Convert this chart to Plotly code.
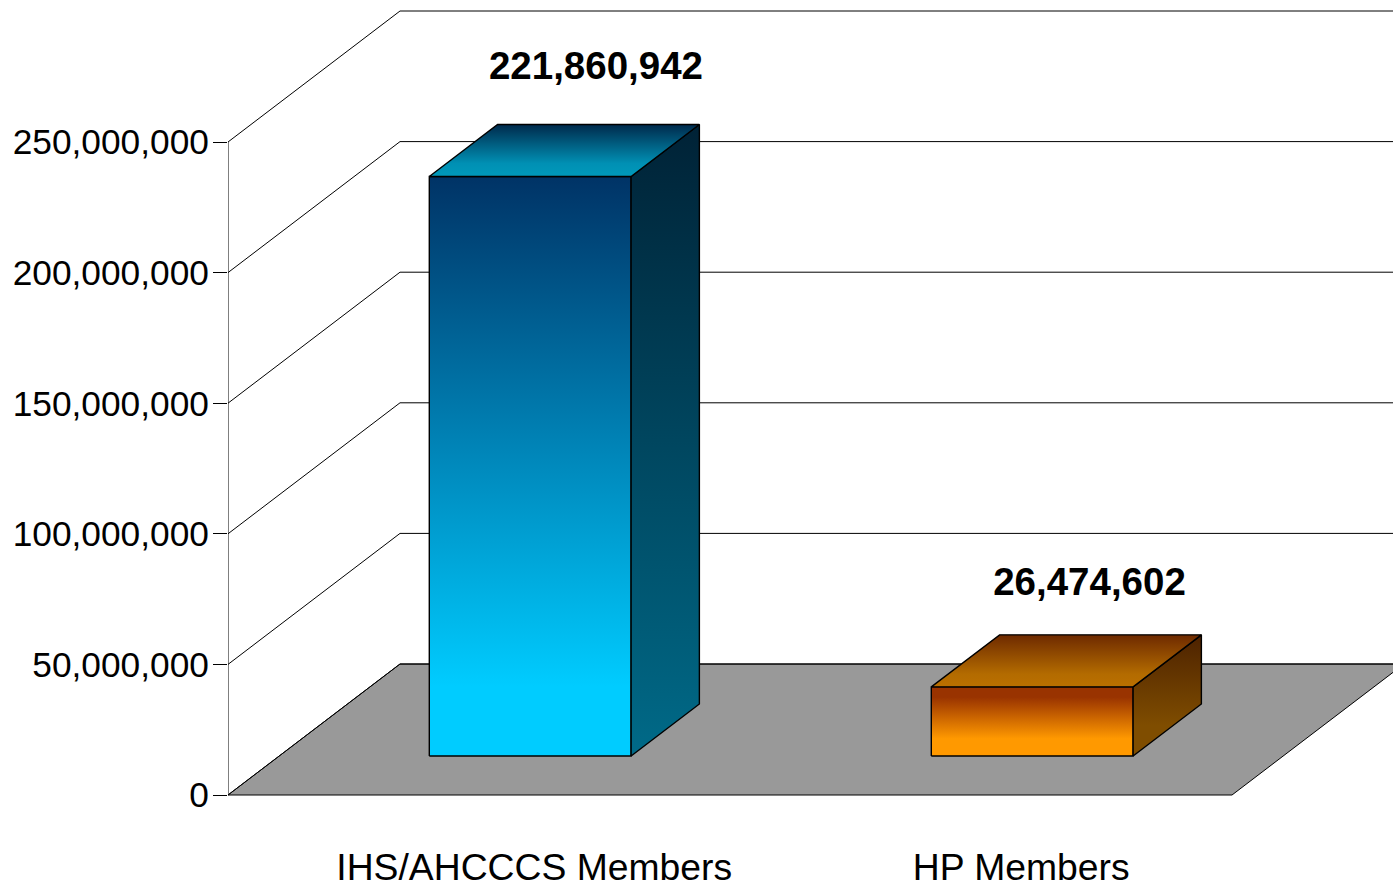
import plotly.graph_objects as go

# ---- data ----
categories = ["IHS/AHCCCS Members", "HP Members"]
values = [221860942, 26474602]
value_labels = ["221,860,942", "26,474,602"]
y_ticks = [0, 50000000, 100000000, 150000000, 200000000, 250000000]
y_tick_labels = ["0", "50,000,000", "100,000,000", "150,000,000", "200,000,000", "250,000,000"]

# ---- styles (top colour -> bottom colour stops) ----
front_scales = [
    [[0, "#003366"], [0.88, "#00CCFF"], [1, "#00CCFF"]],
    [[0, "#993300"], [0.15, "#993300"], [0.75, "#FF9900"], [1, "#FF9900"]],
]
side_scales = [
    [[0, "#002236"], [1, "#006A88"]],
    [[0, "#4D2200"], [0.75, "#7F4D00"], [1, "#7F4D00"]],
]
top_scales = [
    [[0, "#002A4C"], [0.75, "#0090B4"], [1, "#0099BB"]],
    [[0, "#6E2A00"], [0.75, "#B36B00"], [1, "#BB7000"]],
]
FONT = "Liberation Sans"

# ---- pseudo-3D geometry (in axis units) ----
W, H = 1393, 885
M_L, M_B = 228, 42
UNITS_PER_PX = 250000000 / 653.0       # value per pixel
PX_PER_CAT = 502.0
Y_MIN = -((H - M_B) - 795) * UNITS_PER_PX
Y_MAX = 795 * UNITS_PER_PX
X_MAX = (W - M_L) / PX_PER_CAT
DEPTH_X = 172 / PX_PER_CAT
DEPTH_Y = 131 * UNITS_PER_PX
BAR_W = 0.402
Z_FRONT, Z_BACK = 39 / 131.0, 91 / 131.0
LABEL_GAPS = [55, 49]                  # pixels above the bar's top back edge
LABEL_SHIFTS = [-2.5, -11]             # pixels sideways from the bar's top centre
TICK_X = [0.61, 1.58]


def proj(x, y, z):
    return x + z * DEPTH_X, y + z * DEPTH_Y


def poly(pts, scale=None, color=None, width=1.4, y0=None, y1=None):
    xs, ys = zip(*(pts + pts[:1]))
    kw = dict(x=list(xs), y=list(ys), mode="lines", fill="toself",
              line=dict(color="black", width=width),
              hoverinfo="skip", showlegend=False)
    if scale is not None:
        kw["fillgradient"] = dict(type="vertical", colorscale=scale, start=y0, stop=y1)
    else:
        kw["fillcolor"] = color
    return go.Scatter(**kw)


fig = go.Figure()

# floor
fig.add_trace(poly([proj(0, 0, 0), proj(2, 0, 0), proj(2, 0, 1), proj(0, 0, 1)],
                   color="#999999", width=1))

# wall grid lines
for v in y_ticks:
    a, b = proj(0, v, 0), proj(0, v, 1)
    fig.add_trace(go.Scatter(x=[a[0], b[0], X_MAX], y=[a[1], b[1], b[1]], mode="lines",
                             line=dict(color="black", width=1),
                             hoverinfo="skip", showlegend=False))
# vertical axis line
fig.add_trace(go.Scatter(x=[0, 0], y=[0, y_ticks[-1]], mode="lines",
                         line=dict(color="black", width=1),
                         hoverinfo="skip", showlegend=False))

# bars
for i, v in enumerate(values):
    x0 = i + 0.5 - BAR_W / 2
    x1 = i + 0.5 + BAR_W / 2
    f00, f10 = proj(x0, 0, Z_FRONT), proj(x1, 0, Z_FRONT)
    f01, f11 = proj(x0, v, Z_FRONT), proj(x1, v, Z_FRONT)
    b10, b11 = proj(x1, 0, Z_BACK), proj(x1, v, Z_BACK)
    b01 = proj(x0, v, Z_BACK)
    fig.add_trace(poly([f00, f10, f11, f01], front_scales[i], y0=f11[1], y1=f10[1]))
    fig.add_trace(poly([f10, b10, b11, f11], side_scales[i], y0=b11[1], y1=f10[1]))
    fig.add_trace(poly([f01, f11, b11, b01], top_scales[i], y0=b11[1], y1=f11[1]))
    fig.add_trace(go.Scatter(
        x=[(b01[0] + b11[0]) / 2 + LABEL_SHIFTS[i] / PX_PER_CAT],
        y=[b11[1] + LABEL_GAPS[i] * UNITS_PER_PX],
        mode="text", text=[value_labels[i]], textposition="middle center",
        textfont=dict(family=FONT, size=38.5, color="black", weight="bold"),
        hoverinfo="skip", showlegend=False, cliponaxis=False))

fig.update_layout(
    width=W, height=H, autosize=False,
    margin=dict(l=M_L, r=0, t=0, b=M_B, pad=0),
    paper_bgcolor="white", plot_bgcolor="white", showlegend=False,
    font=dict(family=FONT, color="black"),
    xaxis=dict(range=[0, X_MAX], tickmode="array", tickvals=TICK_X, ticktext=categories,
               showgrid=False, zeroline=False, showline=False, ticks="", ticklen=0,
               automargin=False, tickangle=0, ticklabelstandoff=-1,
               tickfont=dict(family=FONT, size=37.3, color="black"), fixedrange=True),
    yaxis=dict(range=[Y_MIN, Y_MAX], tickmode="array", tickvals=y_ticks, ticktext=y_tick_labels,
               showgrid=False, zeroline=False, showline=False, ticks="outside", ticklen=14,
               tickcolor="black", tickwidth=1, automargin=False, ticklabelstandoff=-3,
               tickfont=dict(family=FONT, size=35.3, color="black"), fixedrange=True),
)

fig.write_html("out.html", config={"displayModeBar": False},
               post_script="document.body.style.margin='0';document.body.style.overflow='hidden';")
